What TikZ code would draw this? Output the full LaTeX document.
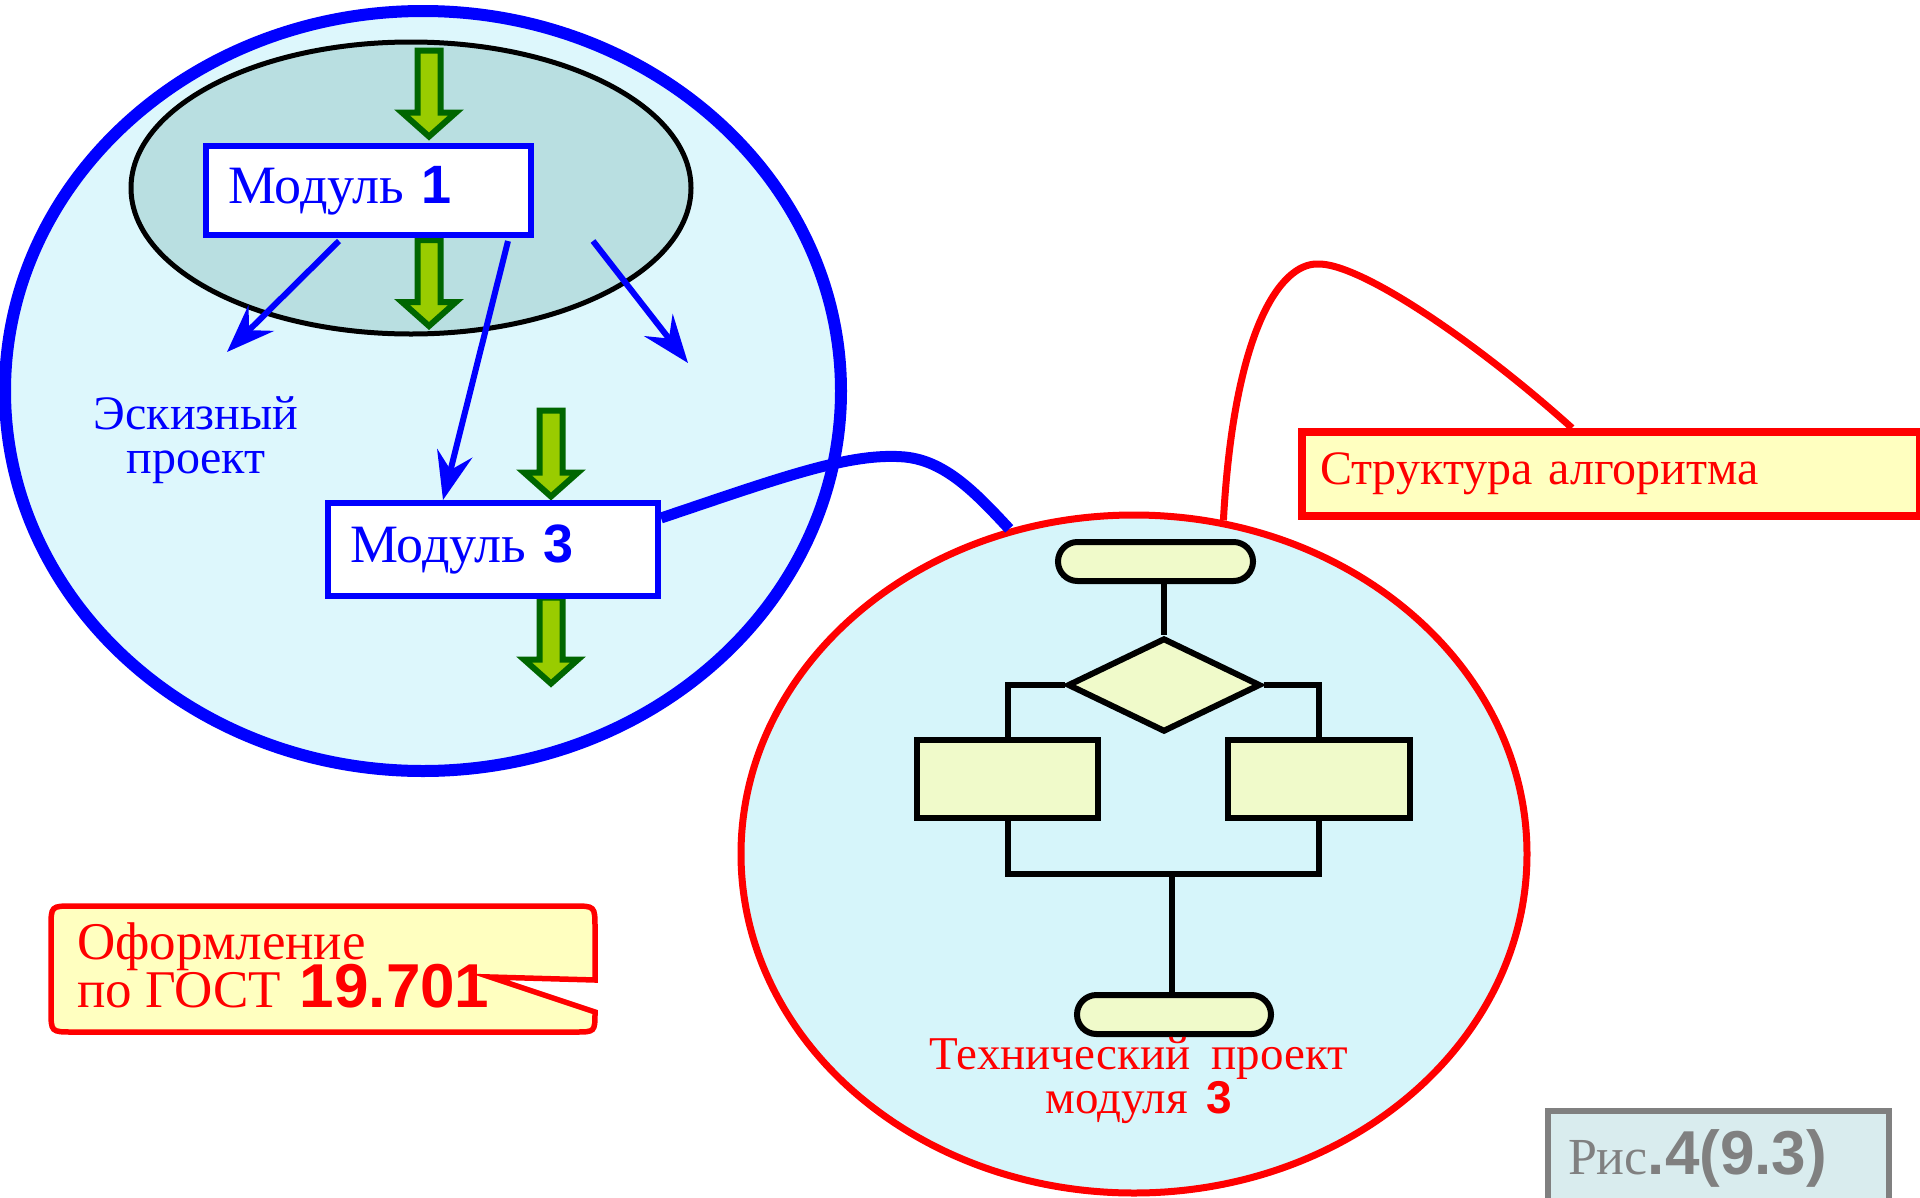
\documentclass[tikz,border=0pt]{standalone}
\usepackage{fontspec}
\setmainfont{Liberation Serif}
\newfontfamily\numf{Liberation Sans}
\usetikzlibrary{shapes.geometric,shapes.misc,arrows.meta}
\definecolor{eskfill}{HTML}{DDF7FC}
\definecolor{innerfill}{HTML}{B9DFE1}
\definecolor{techfill}{HTML}{D6F5FA}
\definecolor{agreen}{HTML}{99CC00}
\definecolor{adark}{HTML}{006600}
\definecolor{flowfill}{HTML}{F0FACA}
\definecolor{notefill}{HTML}{FFFFC0}
\definecolor{figgray}{HTML}{808080}
\definecolor{figfill}{HTML}{D9ECEE}
\newcommand\bnum[2]{{\numf\bfseries\fontsize{#1}{#1}\selectfont #2}}
\tikzset{
  txt/.style={inner sep=0pt},
  modbox/.style={font=\fontsize{54}{50}\selectfont, draw=blue, line width=6pt,
    fill=white, text=blue, inner xsep=22pt, inner ysep=0pt, align=left},
  barrow/.style={draw=blue, line width=6pt,
    -{Stealth[length=48pt,width=36pt,inset=17pt]}},
  fl/.style={draw=black, line width=6pt},
  term/.style={rounded rectangle, draw=black, line width=6pt, fill=flowfill,
    minimum width=195pt, minimum height=39pt, inner sep=0pt},
  procbox/.style={rectangle, draw=black, line width=6pt, fill=flowfill,
    minimum height=78pt, inner sep=0pt},
  garrow/.pic={\draw[draw=adark, fill=agreen, line width=6pt, miter limit=10]
    (-11.5,0) -- (-11.5,62) -- (-27,62) -- (0,86) -- (27,62) -- (11.5,62)
    -- (11.5,0) -- cycle;}
}
\begin{document}
\begin{tikzpicture}[x=1pt,y=-1pt]
\lineskiplimit=-1000pt
\useasboundingbox (0,0) rectangle (1920,1197);

% Sketch project ellipse
\node[ellipse, draw=blue, line width=12pt, fill=eskfill, minimum width=836pt,
  minimum height=760pt, inner sep=0pt] (esk) at (423,391) {};
\node[ellipse, draw=black, line width=5pt, fill=innerfill, minimum width=560pt,
  minimum height=292pt, inner sep=0pt] (inner) at (411,188) {};

% green block arrows
\pic at (429,50.5) {garrow};
\pic at (429,240) {garrow};
\pic at (551,410.5) {garrow};
\pic at (551,597.5) {garrow};

% module boxes
\node[modbox, minimum width=325pt, minimum height=89pt, text width=281pt]
  (m1) at (368.5,190.5) {Модуль \bnum{54}{1}};
\node[modbox, minimum width=330pt, minimum height=93pt, text width=286pt]
  (m3) at (493,549) {Модуль \bnum{54}{3}};

% blue arrows
\coordinate (a1s) at (339,241);
\coordinate (a1e) at (227,352);
\coordinate (a2s) at (508,241);
\coordinate (a2e) at (443,500);
\coordinate (a3s) at (593,241);
\coordinate (a3e) at (688,363);
\draw[barrow] (a1s) -- (a1e);
\draw[barrow] (a2s) -- (a2e);
\draw[barrow] (a3s) -- (a3e);

\node[txt, font=\fontsize{48}{44}\selectfont, text=blue, align=center] (eskt)
  at (196,440) {Эскизный\\проект};

% technical project circle
\node[ellipse, draw=red, line width=7pt, fill=techfill, minimum width=786pt,
  minimum height=678pt, inner sep=0pt] (tech) at (1134,854) {};

% flowchart
\node[term] (t1) at (1155.5,561.5) {};
\node[diamond, draw=black, line width=6pt, fill=flowfill, minimum width=193pt,
  minimum height=94pt, inner sep=0pt] (dec) at (1164,685) {};
\node[procbox, minimum width=181pt] (r1) at (1007.5,779) {};
\node[procbox, minimum width=182pt] (r2) at (1319,779) {};
\node[term, minimum width=194pt] (t2) at (1174,1014.5) {};
\coordinate (jn) at (1172,874);
\draw[fl] (dec.north |- t1.south) -- (dec.north);
\draw[fl] (dec.west) -| (r1.north);
\draw[fl] (dec.east) -| (r2.north);
\draw[fl] (r1.south) |- (jn) -| (r2.south);
\draw[fl] (jn) -- (jn |- t2.north);

\node[txt, font=\fontsize{47}{44}\selectfont, text=red, align=center] (techt)
  at (1139,1080) {Технический\hspace{0.45em}проект\\модуля\hspace{0.4em}\bnum{46}{3}};

% connector module 3 -> technical project
\draw[draw=blue, line width=11pt] ([yshift=31pt]m3.east)
  .. controls (780,478) and (850,452) .. (905,457)
  .. controls (945,461) and (975,492) .. (tech.111);

% algorithm structure callout
\node[font=\fontsize{48}{44}\selectfont, anchor=north west, draw=red,
  line width=8pt, fill=notefill, minimum width=618pt, minimum height=84pt,
  text width=582pt, inner xsep=18pt, inner ysep=0pt, align=left, text=red]
  (str) at (1298,428) {Структура алгоритма};
\draw[draw=red, line width=7pt] ([xshift=274pt]str.north west)
  .. controls (1480,345) and (1360,262) .. (1317,264)
  .. controls (1280,264) and (1234,330) .. (tech.75);

% GOST callout
\draw[draw=red, line width=5.5pt, fill=notefill] (51,928)
  .. controls (51,906) .. (73,906) -- (573,906)
  .. controls (595,906) .. (595,928) -- (595,980) -- (490,977) -- (595,1012)
  .. controls (595,1032) .. (575,1032) -- (73,1032)
  .. controls (51,1032) .. (51,1010) -- cycle;
\node[txt, font=\fontsize{53}{48}\selectfont, text=red, align=left, anchor=west]
  (gost) at (77,965) {Оформление\\по ГОСТ\hspace{0.35em}\bnum{62}{19.701}};

% figure label
\node[font=\fontsize{52}{50}\selectfont, anchor=north west, draw=figgray,
  line width=6pt, fill=figfill, minimum width=341pt, minimum height=95pt,
  text width=301pt, inner xsep=20pt, inner ysep=0pt, align=left, text=figgray]
  (fig) at (1545,1108) {Рис\bnum{62}{.4(9.3)}};
\end{tikzpicture}
\end{document}
